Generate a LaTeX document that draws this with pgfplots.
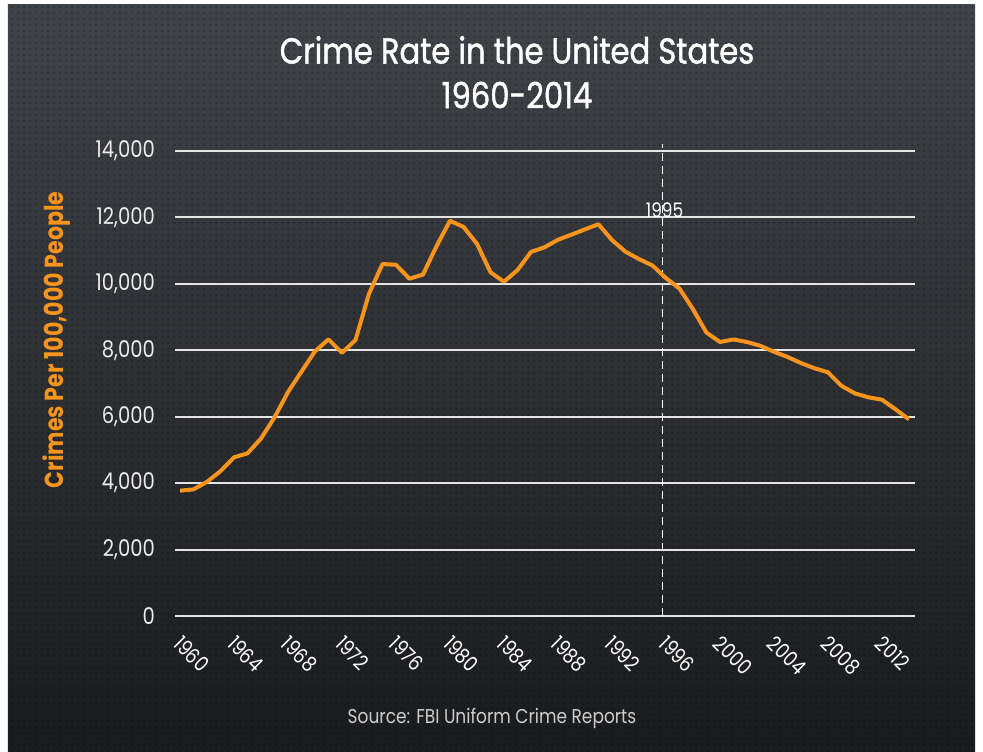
\documentclass[border=0pt]{standalone}
\usepackage{pgfplots}
\pgfplotsset{compat=1.18}
\usetikzlibrary{patterns}
\usepackage{fontspec}
\setmainfont{Poppins}[FakeStretch=0.85]
\newfontfamily\titlefont{Poppins}[FakeStretch=0.85, FakeBold=1.2]
\definecolor{crimeorange}{RGB}{247,148,30}
\definecolor{gridgray}{RGB}{228,228,228}
\definecolor{bgtop}{RGB}{64,67,73}
\definecolor{bgmid}{RGB}{46,48,52}
\definecolor{bgbot}{RGB}{26,27,29}
\definecolor{srcgray}{RGB}{205,205,205}
\pgfplotstableread{
year rate
1960 3774
1961 3812
1962 4040
1963 4361
1964 4776
1965 4898
1966 5342
1967 5979
1968 6740
1969 7360
1970 7969
1971 8329
1972 7923
1973 8309
1974 9701
1975 10597
1976 10575
1977 10155
1978 10281
1979 11131
1980 11900
1981 11716
1982 11207
1983 10350
1984 10063
1985 10414
1986 10961
1987 11100
1988 11328
1989 11482
1990 11641
1991 11796
1992 11320
1993 10969
1994 10747
1995 10552
1996 10173
1997 9860
1998 9239
1999 8533
2000 8250
2001 8325
2002 8250
2003 8134
2004 7955
2005 7801
2006 7616
2007 7461
2008 7338
2009 6931
2010 6701
2011 6585
2012 6512
2013 6225
2014 5922
}\crimedata
\begin{document}
\begin{tikzpicture}
\fill[white] (-87.5pt,-67.5pt) rectangle (404pt,308pt);
\shade[top color=bgtop, middle color=bgmid, bottom color=bgbot] (-83.5pt,-67.5pt) rectangle (400pt,305.5pt);
\fill[pattern=dots, pattern color=black, opacity=0.3] (-83.5pt,-67.5pt) rectangle (400pt,305.5pt);
\begin{axis}[
  scale only axis,
  width=370pt, height=232.5pt,
  xmin=1959.63, xmax=2014.45,
  ymin=0, ymax=14000,
  clip=false,
  axis line style={draw=none},
  major tick style={draw=none},
  minor tick style={draw=none},
  ymajorgrids,
  grid style={gridgray, line width=1pt},
  scaled y ticks=false,
  ytick={0,2000,4000,6000,8000,10000,12000,14000},
  yticklabels={0,{2,000},{4,000},{6,000},{8,000},{10,000},{12,000},{14,000}},
  xtick={1960,1964,1968,1972,1976,1980,1984,1988,1992,1996,2000,2004,2008,2012},
  xticklabels={1960,1964,1968,1972,1976,1980,1984,1988,1992,1996,2000,2004,2008,2012},
  x tick label style={rotate=-45, anchor=north west, inner sep=0pt, text=white, font=\fontsize{10.5}{11}\selectfont, xshift=7.4pt, yshift=-5.3pt},
  y tick label style={text=white!92!black, font=\fontsize{11.5}{12}\selectfont, xshift=-6.5pt},
]
\addplot[white, line width=0.8pt, dash pattern=on 4pt off 2.5pt] coordinates {(1995.75,0) (1995.75,14200)};
\addplot[crimeorange, line width=2pt, line join=round] table[x=year, y=rate] {\crimedata};
\node[white, font=\fontsize{10}{10}\selectfont] at (axis cs:1995.9,12230) {1995};
\node[crimeorange, rotate=90, font=\bfseries\fontsize{13}{13}\selectfont] at ([xshift=-59pt]rel axis cs:0,0.594) {Crimes Per 100,000 People};
\end{axis}
\node[white, font=\titlefont\fontsize{18}{18}\selectfont] at (171pt,283pt) {Crime Rate in the United States};
\node[white, font=\titlefont\fontsize{18}{18}\selectfont] at (171pt,260.5pt) {1960-2014};
\node[srcgray, font=\fontsize{10}{10}\selectfont] at (158.5pt,-51pt) {Source: FBI Uniform Crime Reports};
\end{tikzpicture}
\end{document}
